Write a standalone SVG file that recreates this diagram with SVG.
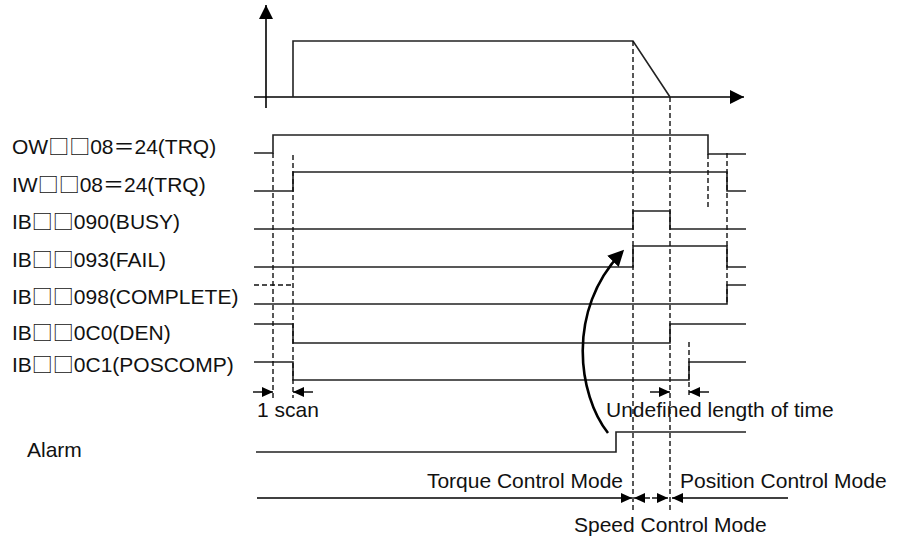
<svg xmlns="http://www.w3.org/2000/svg" width="901" height="542" viewBox="0 0 901 542">
<style>
  text { font-family: "Liberation Sans", Arial, "Noto Sans CJK JP", sans-serif; font-size: 21px; fill: #111; }
  .cjk { font-family: "Noto Sans CJK JP", "Noto Sans CJK SC", sans-serif; }
  .sig { fill: none; stroke: #222; stroke-width: 1.6; }
  .ax { fill: none; stroke: #000; stroke-width: 1.6; }
  .dash { fill: none; stroke: #111; stroke-width: 1.4; stroke-dasharray: 5 3; }
  .dim { fill: none; stroke: #000; stroke-width: 1.4; }
</style>
<defs>
  <marker id="big" markerUnits="userSpaceOnUse" markerWidth="14" markerHeight="14" refX="14" refY="7" orient="auto">
    <path d="M0,0 L14,7 L0,14 z" fill="#000"/>
  </marker>
  <marker id="ah" markerUnits="userSpaceOnUse" markerWidth="11" markerHeight="10" refX="11" refY="5" orient="auto">
    <path d="M0,0 L11,5 L0,10 z" fill="#000"/>
  </marker>
  <marker id="curve" markerUnits="userSpaceOnUse" markerWidth="16" markerHeight="16" refX="13" refY="8" orient="auto">
    <path d="M0,0 L16,8 L0,16 z" fill="#000"/>
  </marker>
</defs>

<g id="speed-graph">
  <line class="ax" x1="266" y1="108" x2="266" y2="5" marker-end="url(#big)"/>
  <line class="ax" x1="254" y1="97" x2="744" y2="97" marker-end="url(#big)"/>
  <polyline class="sig" points="293,97 293,41 633,41 670,97"/>
</g>

<g id="OW08">
  <text x="12" y="154">OW<tspan class="cjk">□□</tspan>08<tspan class="cjk">＝</tspan>24(TRQ)</text>
  <polyline class="sig" points="254,153 273,153 273,135 708,135 708,154 746,154"/>
</g>
<g id="IW08">
  <text x="12" y="192">IW<tspan class="cjk">□□</tspan>08<tspan class="cjk">＝</tspan>24(TRQ)</text>
  <polyline class="sig" points="254,191 293,191 293,172 727,172 727,191 746,191"/>
</g>
<g id="BUSY">
  <text x="12" y="229">IB<tspan class="cjk">□□</tspan>090(BUSY)</text>
  <polyline class="sig" points="254,229 633,229 633,211 670,211 670,229 746,229"/>
</g>
<g id="FAIL">
  <text x="12" y="267">IB<tspan class="cjk">□□</tspan>093(FAIL)</text>
  <polyline class="sig" points="254,267 633,267 633,246 727,246 727,267 746,267"/>
</g>
<g id="COMPLETE">
  <text x="12" y="304">IB<tspan class="cjk">□□</tspan>098(COMPLETE)</text>
  <line class="dash" x1="254" y1="285" x2="293" y2="285"/>
  <polyline class="sig" points="254,304 727,304 727,285 746,285"/>
</g>
<g id="DEN">
  <text x="12" y="340">IB<tspan class="cjk">□□</tspan>0C0(DEN)</text>
  <polyline class="sig" points="254,324 293,324 293,343 670,343 670,324 746,324"/>
</g>
<g id="POSCOMP">
  <text x="12" y="372">IB<tspan class="cjk">□□</tspan>0C1(POSCOMP)</text>
  <polyline class="sig" points="254,362 293,362 293,380 689,380 689,362 746,362"/>
</g>
<g id="Alarm">
  <text x="27" y="457">Alarm</text>
  <polyline class="sig" points="256,452 616,452 616,432 746,432"/>
</g>

<g id="connectors">
  <line class="dash" x1="273" y1="153" x2="273" y2="398"/>
  <line class="dash" x1="293" y1="155" x2="293" y2="398"/>
  <line class="dash" x1="633" y1="41" x2="633" y2="512"/>
  <line class="dash" x1="670" y1="97" x2="670" y2="512"/>
  <line class="dash" x1="689" y1="342" x2="689" y2="398"/>
  <line class="dash" x1="708" y1="154" x2="708" y2="207"/>
  <line class="dash" x1="727" y1="153" x2="727" y2="304"/>

  <line class="dim" x1="253" y1="392" x2="273" y2="392" marker-end="url(#ah)"/>
  <line class="dim" x1="313" y1="392" x2="293" y2="392" marker-end="url(#ah)"/>
  <line class="dim" x1="650" y1="392" x2="670" y2="392" marker-end="url(#ah)"/>
  <line class="dim" x1="709" y1="392" x2="689" y2="392" marker-end="url(#ah)"/>

  <line class="dim" x1="257" y1="498" x2="632" y2="498" marker-end="url(#ah)"/>
  <line class="dim" x1="650" y1="498" x2="634" y2="498" marker-end="url(#ah)"/>
  <line class="dim" x1="652" y1="498" x2="668" y2="498" marker-end="url(#ah)"/>
  <line class="dim" x1="788" y1="498" x2="672" y2="498" marker-end="url(#ah)"/>

  <path d="M608,433 C578,395 566,310 622,252" fill="none" stroke="#000" stroke-width="2.6" marker-end="url(#curve)"/>
</g>

<g id="labels">
  <text x="257" y="417">1 scan</text>
  <text x="606" y="417">Undefined length of time</text>
  <text x="623" y="488" text-anchor="end">Torque Control Mode</text>
  <text x="680" y="488">Position Control Mode</text>
  <text x="574" y="532">Speed Control Mode</text>
</g>
</svg>
